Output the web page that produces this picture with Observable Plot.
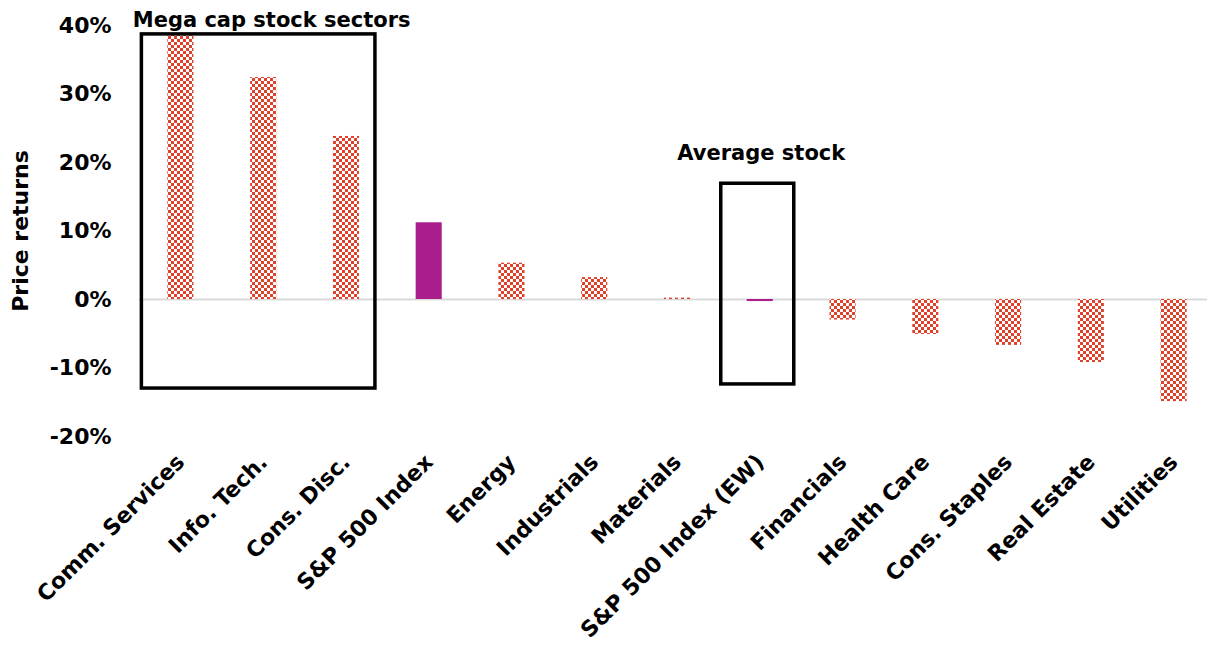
<!DOCTYPE html>
<html><head><meta charset="utf-8">
<script src="https://cdn.jsdelivr.net/npm/d3@7"></script>
<script src="https://cdn.jsdelivr.net/npm/@observablehq/plot@0.6"></script>
<style>
body{margin:0;background:#fff;}
#chart{position:relative;width:1207px;height:653px;}
</style></head><body><div id="chart"></div>
<script>
const categories = ["Comm. Services","Info. Tech.","Cons. Disc.","S&P 500 Index","Energy","Industrials","Materials","S&P 500 Index (EW)","Financials","Health Care","Cons. Staples","Real Estate","Utilities"];
const returns = [38.8, 32.4, 23.8, 11.2, 5.3, 3.2, 0.2, -0.3, -3.0, -5.1, -6.7, -9.2, -14.9];
const isIndex = [false,false,false,true,false,false,false,true,false,false,false,false,false];
const yTicks = [-20,-10,0,10,20,30,40];
const boxes = [
  {label:"Mega cap stock sectors", from:"Comm. Services", to:"Cons. Disc.", labelAt:"Info. Tech.", top:38.7, bottom:-13.0, labelY:40.7},
  {label:"Average stock", from:"S&P 500 Index (EW)", to:"S&P 500 Index (EW)", labelAt:"S&P 500 Index (EW)", top:16.9, bottom:-12.4, labelY:21.4}
];

const data = categories.map((c,i)=>({cat:c, value:returns[i], index:isIndex[i]}));
const FONT = "'DejaVu Sans', sans-serif";

const plot = Plot.plot({
  width:1207, height:653,
  marginTop:25, marginBottom:217, marginLeft:139, marginRight:0,
  style:{fontFamily:FONT, background:"#fff", overflow:"visible"},
  x:{domain:categories, range:[139,1215], paddingInner:0.685, paddingOuter:0.3425, round:false, label:null},
  y:{domain:[-20,40], label:null},
  marks:[
    Plot.ruleY([0],{stroke:"#d9d9d9", strokeWidth:2}),
    Plot.barY(data,{x:"cat", y:"value", fill:d=>d.index?"#aa1e8c":"url(#checker)"}),
    Plot.axisY({ticks:yTicks, tickFormat:d=>d+"%", tickSize:0, tickPadding:28, fontSize:22, fontWeight:"bold", fill:"#000",
      label:"Price returns", labelAnchor:"center", labelArrow:"none", labelOffset:127}),
    Plot.axisX({tickSize:0, tickRotate:-45, tickPadding:22, fontSize:22, fontWeight:"bold", fill:"#000", label:null}),
    Plot.text([boxes[0]],{x:"labelAt", y:"labelY", text:"label", fontSize:21, fontWeight:"bold", fill:"#000", dx:8}),
    Plot.text([boxes[1]],{x:"labelAt", y:"labelY", text:"label", fontSize:21, fontWeight:"bold", fill:"#000", dx:1})
  ]
});

const svg = d3.select(plot);
const defs = svg.insert("defs",":first-child");
const pat = defs.append("pattern").attr("id","checker").attr("patternUnits","userSpaceOnUse").attr("width",6).attr("height",6);
pat.append("rect").attr("width",6).attr("height",6).attr("fill","#fff");
pat.append("rect").attr("x",0).attr("y",0).attr("width",3).attr("height",3).attr("fill","#e0412b");
pat.append("rect").attr("x",3).attr("y",3).attr("width",3).attr("height",3).attr("fill","#e0412b");

const xs = plot.scale("x"), ys = plot.scale("y");
const g = svg.append("g");
boxes.forEach(b=>{
  const x1 = xs.apply(b.from) + xs.bandwidth/2 - 39;
  const x2 = xs.apply(b.to) + xs.bandwidth/2 + (b.from===b.to?34:29);
  const y1 = ys.apply(b.top), y2 = ys.apply(b.bottom);
  g.append("rect").attr("x",x1).attr("y",y1).attr("width",x2-x1).attr("height",y2-y1)
    .attr("fill","none").attr("stroke","#000").attr("stroke-width",3.5);
});
svg.selectAll("[aria-label='text']").raise();
svg.selectAll("[aria-label='y-axis label'] text").attr("font-size",22).attr("font-weight","bold").attr("fill","#000");
document.getElementById("chart").appendChild(plot);
</script></body></html>
